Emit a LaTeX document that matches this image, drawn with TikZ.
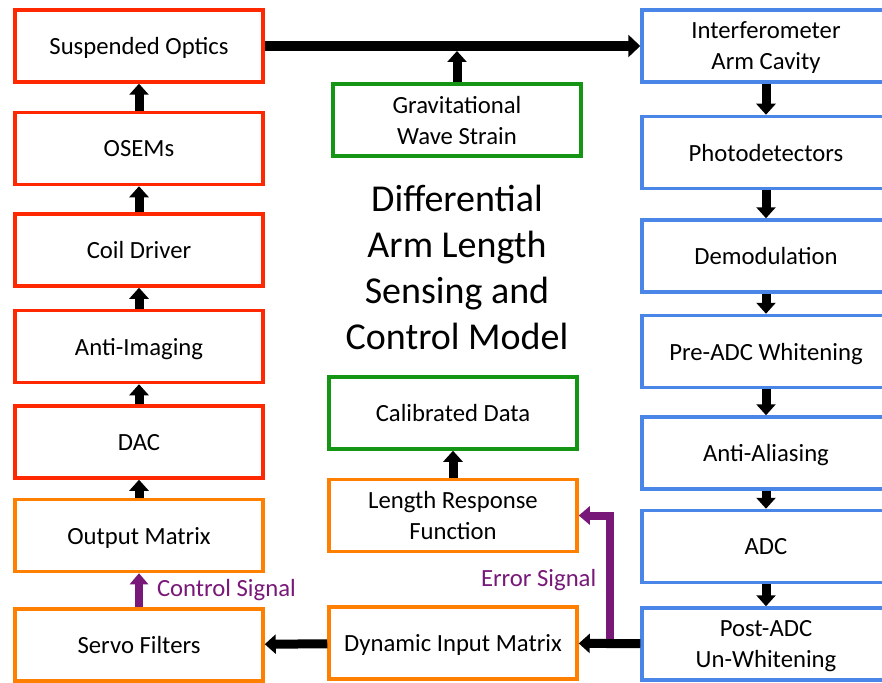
\documentclass[tikz,border=0pt]{standalone}
\usepackage{fontspec}
\setmainfont{Carlito}
\usetikzlibrary{positioning,arrows.meta}
\definecolor{boxred}{RGB}{255,40,0}
\definecolor{boxorange}{RGB}{255,128,0}
\definecolor{boxgreen}{RGB}{20,150,20}
\definecolor{boxblue}{RGB}{74,134,232}
\definecolor{sigpurple}{RGB}{120,24,120}

\begin{document}
\begin{tikzpicture}[x=1pt,y=-1pt,
		box/.style={draw,line width=3.5pt,fill=white,minimum width=248pt,minimum height=72pt,align=center,text depth=0pt,font=\fontsize{24.7}{31}\selectfont},
		redbox/.style={box,draw=boxred},
		orangebox/.style={box,draw=boxorange},
		greenbox/.style={box,draw=boxgreen},
		bluebox/.style={box,draw=boxblue},
		flow/.style={line width=9pt,-{Triangle[width=19pt,length=11pt]}},
		mainflow/.style={line width=10pt,-{Triangle[width=22pt,length=12pt]}},
		signal/.style={flow,line width=8pt,draw=sigpurple,-{Triangle[width=18pt,length=11pt]}},
		signaltext/.style={text=sigpurple,inner sep=0pt,font=\fontsize{24.7}{31}\selectfont}]
		\useasboundingbox (0,0) rectangle (882,682);

		\node[redbox]							(optics)	at (139,46)		{Suspended Optics};
		\node[redbox,below=27pt of optics]		(osems)						{OSEMs};
		\node[redbox,below=26pt of osems]		(coil)						{Coil Driver};
		\node[redbox,below=21pt of coil]		(antiimg)					{Anti-Imaging};
		\node[redbox,below=20pt of antiimg]		(dac)						{DAC};
		\node[orangebox,below=18pt of dac]		(outmat)					{Output Matrix};
		\node[orangebox,below=34pt of outmat]	(servo)						{Servo Filters};

		\node[greenbox]							(strain)	at (457,120)	{Gravitational\\Wave Strain};
		\node[font=\fontsize{38}{46}\selectfont,align=center]	(title)	at (457,267)	{Differential\\Arm Length\\Sensing and\\Control Model};
		\node[greenbox]							(caldata)	at (453,413)	{Calibrated Data};
		\node[orangebox,below=27pt of caldata]	(lrf)						{Length Response\\Function};
		\node[orangebox,below=52pt of lrf]		(dim)						{Dynamic Input Matrix};

		\node[bluebox]							(cavity)	at (766,46)		{Interferometer\\Arm Cavity};
		\node[bluebox,below=31pt of cavity]		(pd)						{Photodetectors};
		\node[bluebox,below=28pt of pd]			(demod)						{Demodulation};
		\node[bluebox,below=20pt of demod]		(prewhite)					{Pre-ADC Whitening};
		\node[bluebox,below=26pt of prewhite]	(aa)						{Anti-Aliasing};
		\node[bluebox,below=18pt of aa]			(adc)						{ADC};
		\node[bluebox,below=22pt of adc]		(unwhite)					{Post-ADC\\Un-Whitening};

		\coordinate[left=30pt of unwhite]		(tap);

		\draw[flow,shorten >=5pt] (strain) -- (strain |- optics.east);
		\draw[mainflow] (optics) -- (cavity);

		\draw[flow] (osems) -- (optics);
		\draw[flow] (coil) -- (osems);
		\draw[flow] (antiimg) -- (coil);
		\draw[flow] (dac) -- (antiimg);
		\draw[flow] (outmat) -- (dac);
		\draw[signal] (servo) -- (outmat) node[signaltext,midway,right=14pt] {Control Signal};

		\draw[flow] (cavity) -- (pd);
		\draw[flow] (pd) -- (demod);
		\draw[flow] (demod) -- (prewhite);
		\draw[flow] (prewhite) -- (aa);
		\draw[flow] (aa) -- (adc);
		\draw[flow] (adc) -- (unwhite);

		\draw[signal] (tap) |- (lrf.east) node[signaltext,pos=0.25,left=10pt] {Error Signal};
		\draw[flow] (unwhite) -- (dim);
		\draw[flow] (dim) -- (servo);
		\draw[flow] (lrf) -- (caldata);
	\end{tikzpicture}
\end{document}
